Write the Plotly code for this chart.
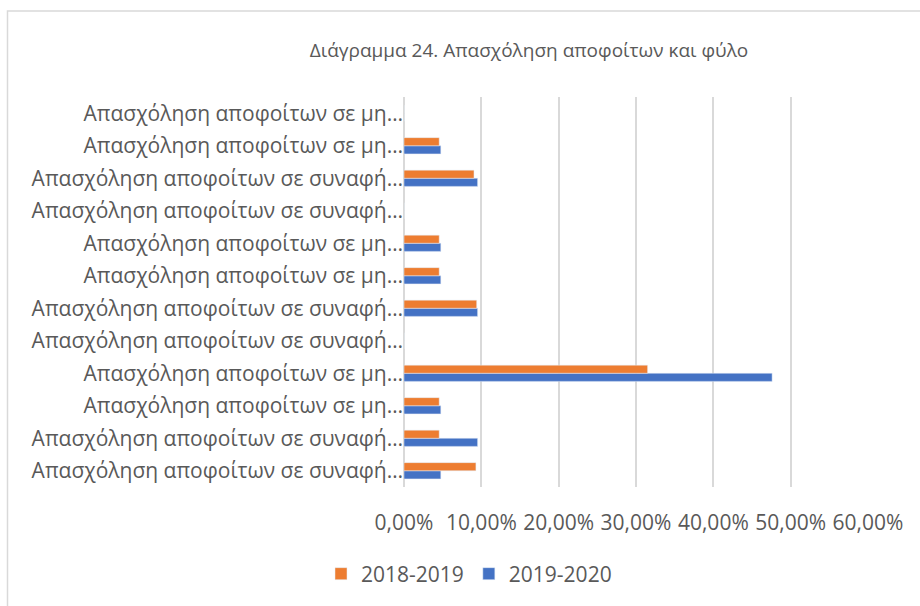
import plotly.graph_objects as go

# categories listed bottom -> top (plotly draws the first category at the bottom)
labels = [
    "Απασχόληση αποφοίτων σε συναφή…",
    "Απασχόληση αποφοίτων σε συναφή…",
    "Απασχόληση αποφοίτων σε μη…",
    "Απασχόληση αποφοίτων σε μη…",
    "Απασχόληση αποφοίτων σε συναφή…",
    "Απασχόληση αποφοίτων σε συναφή…",
    "Απασχόληση αποφοίτων σε μη…",
    "Απασχόληση αποφοίτων σε μη…",
    "Απασχόληση αποφοίτων σε συναφή…",
    "Απασχόληση αποφοίτων σε συναφή…",
    "Απασχόληση αποφοίτων σε μη…",
    "Απασχόληση αποφοίτων σε μη…",
]
positions = list(range(len(labels)))

y2018_2019 = [0.093, 0.0455, 0.0455, 0.315, 0, 0.094, 0.0455, 0.0455, 0, 0.0905, 0.0455, 0]
y2019_2020 = [0.0476, 0.0952, 0.0476, 0.476, 0, 0.0952, 0.0476, 0.0476, 0, 0.0952, 0.0476, 0]

W, H = 920, 606
ml, mr, mt, mb = 404, 52, 97, 119
pw, ph = W - ml - mr, H - mt - mb

font = "Open Sans"
grey = "#595959"

fig = go.Figure()
# blue first so that the orange bar sits above it in each group
fig.add_trace(go.Bar(y=positions, x=y2019_2020, orientation="h", name="2019-2020",
                     marker_color="#4472C4"))
fig.add_trace(go.Bar(y=positions, x=y2018_2019, orientation="h", name="2018-2019",
                     marker_color="#ED7D31"))

fig.update_layout(
    width=W, height=H,
    margin=dict(l=ml, r=mr, t=mt, b=mb),
    paper_bgcolor="white", plot_bgcolor="white",
    barmode="group", bargap=0.5, bargroupgap=0,
    separators=",.",
    font=dict(family=font, size=21, color=grey),
    title=dict(text="Διάγραμμα 24. Απασχόληση αποφοίτων και φύλο",
               x=529 / W, xanchor="center", y=1 - 50 / H, yanchor="middle",
               font=dict(family=font, size=19, color=grey)),
    legend=dict(orientation="h", traceorder="reversed",
                xref="container", yref="container",
                x=469 / W, xanchor="center", y=1 - 574 / H, yanchor="middle",
                font=dict(size=21, color=grey)),
    showlegend=True,
)
fig.update_xaxes(range=[0, 0.6], dtick=0.1, tickformat=".2%",
                 showgrid=True, gridcolor="#D9D9D9",
                 gridwidth=1.5, zeroline=True, zerolinecolor="#D9D9D9",
                 zerolinewidth=1.5, showline=False, ticks="",
                 tickfont=dict(size=21),
                 ticklabelstandoff=21, fixedrange=True)
fig.update_yaxes(tickmode="array", tickvals=positions, ticktext=labels,
                 range=[-0.5, len(labels) - 0.5], showgrid=False,
                 tickfont=dict(size=21),
                 zeroline=False, showline=False, ticks="", fixedrange=True)

# outer chart border
fig.add_shape(type="rect", xref="paper", yref="paper",
              x0=(7.5 - ml) / pw, x1=(W + 5 - ml) / pw,
              y0=(H - mb - H - 5) / ph, y1=(H - mb - 11) / ph,
              line=dict(color="#D9D9D9", width=1.5), fillcolor="rgba(0,0,0,0)",
              layer="below")

fig.write_html("out.html", config={"displayModeBar": False},
               post_script="document.body.style.margin='0';")
